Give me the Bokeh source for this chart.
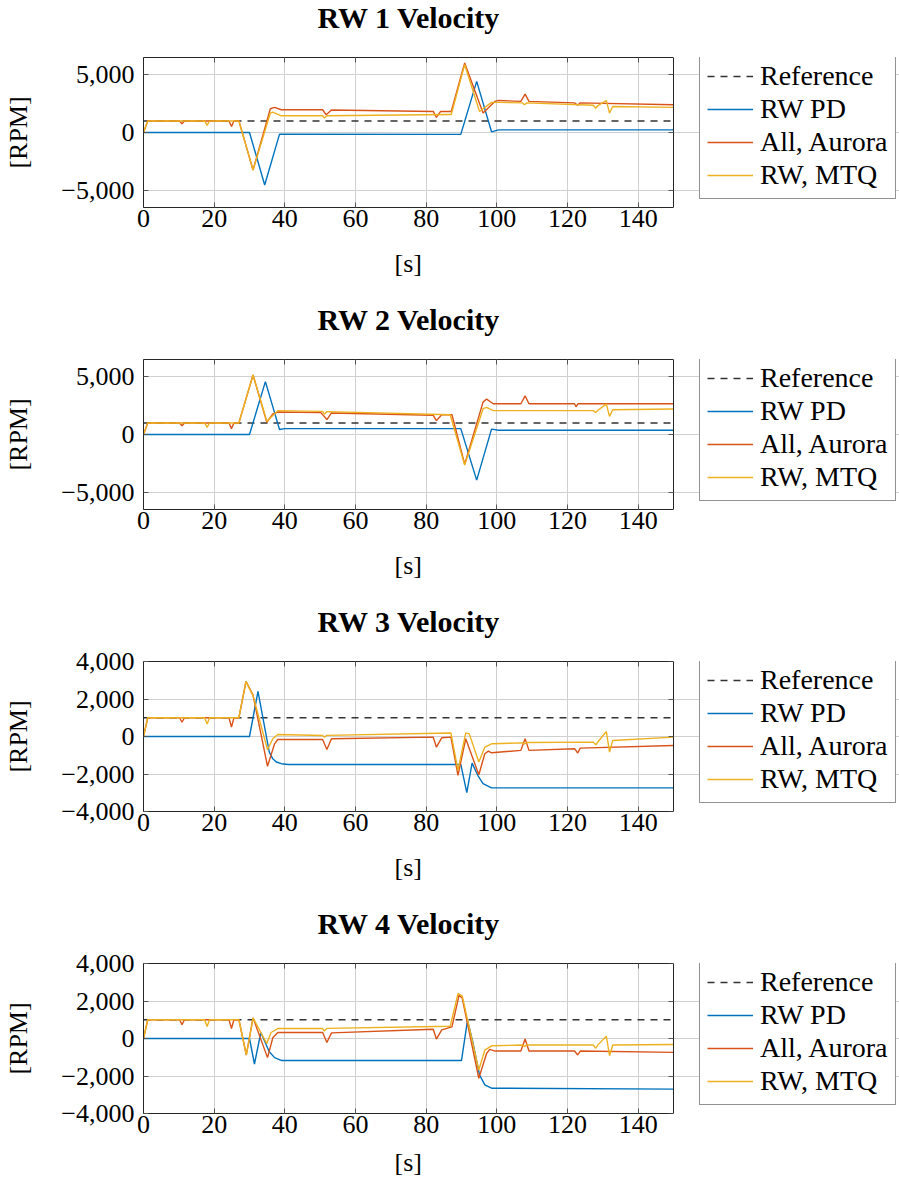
from bokeh.plotting import figure
from bokeh.layouts import column
from bokeh.models import (Legend, LegendItem, LinearAxis, Range1d, FixedTicker,
                          CustomJSTickFormatter, CustomLabelingPolicy, Title)
from bokeh.embed import file_html
from bokeh.resources import INLINE

# ---------------- data ----------------
titles = ["RW 1 Velocity", "RW 2 Velocity", "RW 3 Velocity", "RW 4 Velocity"]
series_names = ["Reference", "RW PD", "All, Aurora", "RW, MTQ"]
x_label = "[s]"
y_label = "[RPM]"
x_ticks = [0, 20, 40, 60, 80, 100, 120, 140]
x_lim = (0, 150)
y_ticks_12 = [-5000, 0, 5000]
y_ticks_34 = [-4000, -2000, 0, 2000, 4000]

ref_t = [0, 150]
ref_y = [1000, 1000]

# RW 1
blue1_t = [0, 30.0, 34.3, 38.5, 89.8, 94.3, 98.5, 100.5, 150]
blue1_y = [0, 0, -4540, -145, -160, 4420, 60, 230, 230]
red1_t = [0, 1.2, 10.2, 10.9, 11.6, 24.2, 24.9, 25.6, 27.0, 31.0, 35.9, 37.1, 39.0, 50.7, 51.7,
          53.2, 82.0, 82.9, 84.1, 87.1, 90.9, 96.1, 99.5, 100.5, 106.8, 108.0, 109.1, 122.0,
          122.9, 123.6, 150]
red1_y = [0, 1000, 1000, 750, 1000, 1000, 520, 1000, 1000, -3240, 2050, 2170, 1965, 1965, 1530,
          1940, 1820, 1300, 1820, 1820, 6010, 1680, 2690, 2770, 2690, 3320, 2690, 2560,
          2350, 2560, 2400]
yel1_t = [0, 1.2, 17.3, 18.0, 18.7, 27.0, 31.0, 35.9, 36.6, 39.0, 50.7, 51.2, 51.9, 86.8, 87.1,
          90.9, 95.1, 98.5, 100.5, 107.3, 107.8, 108.5, 127.3, 128.0, 128.6, 131.0, 131.9,
          132.8, 150]
yel1_y = [0, 1000, 1000, 620, 1000, 1000, -3240, 1680, 1760, 1445, 1445, 1250, 1445, 1560, 1560,
          5870, 1820, 2600, 2600, 2560, 2400, 2560, 2350, 2100, 2330, 2750, 1680, 2250, 2170]

# RW 2
blue2_t = [0, 30.0, 34.5, 38.5, 40.0, 89.8, 94.3, 98.5, 100.5, 150]
blue2_y = [0, 0, 4570, 430, 510, 510, -3940, 460, 370, 370]
red2_t = [0, 1.2, 10.2, 10.9, 11.6, 24.2, 24.9, 25.6, 27.0, 31.0, 34.9, 36.6, 38.0, 50.2, 51.9,
          53.2, 82.0, 82.9, 84.4, 87.3, 90.9, 96.1, 97.1, 99.0, 106.8, 108.0, 109.1, 122.0,
          122.4, 123.0, 150]
red2_y = [0, 1000, 1000, 750, 1000, 1000, 510, 1000, 1000, 5140, 1060, 1770, 1940, 1890, 1290,
          1860, 1660, 1200, 1710, 1710, -2570, 2800, 3060, 2660, 2660, 3340, 2660, 2660,
          2400, 2660, 2660]
yel2_t = [0, 1.2, 17.3, 18.0, 18.7, 27.0, 31.0, 34.9, 38.0, 50.7, 51.2, 51.9, 86.8, 90.9, 96.1,
          97.1, 99.0, 127.3, 128.0, 128.6, 131.0, 131.9, 132.8, 150]
yel2_y = [0, 1000, 1000, 620, 1000, 1000, 5140, 1140, 2060, 2000, 1750, 1980, 1710, -2630, 2230,
          2340, 2060, 2060, 1900, 2100, 2630, 1570, 2140, 2200]

# RW 3
blue3_t = [0, 30.0, 32.4, 35.6, 36.6, 37.6, 39.0, 41.0, 89.8, 91.5, 93.0, 94.6, 96.1, 98.5, 150]
blue3_y = [0, 0, 2410, -830, -1190, -1360, -1450, -1490, -1490, -2990, -1420, -2070, -2510,
           -2740, -2740]
red3_t = [0, 1.2, 10.2, 10.9, 11.6, 24.2, 24.9, 25.6, 27.0, 29.0, 31.0, 35.1, 37.1, 38.0, 50.7,
          51.9, 53.2, 82.0, 82.9, 84.4, 87.0, 89.0, 91.2, 94.9, 96.6, 97.6, 98.5, 106.8, 108.0,
          109.1, 122.0, 122.9, 123.6, 150]
red3_y = [0, 1000, 1000, 760, 1000, 1000, 500, 1000, 1000, 2940, 2210, -1590, -390, -160, -160,
          -690, -120, -35, -570, -70, -35, -2070, -120, -2040, -920, -780, -870, -740, -120,
          -740, -650, -880, -620, -480]
yel3_t = [0, 1.2, 17.3, 18.0, 18.7, 27.0, 29.0, 31.0, 35.1, 36.6, 38.0, 50.7, 51.2, 51.9, 87.0,
          89.0, 91.2, 92.2, 94.9, 96.6, 98.5, 107.3, 107.8, 108.5, 127.3, 128.0, 128.6, 131.0,
          131.9, 132.8, 150]
yel3_y = [0, 1000, 1000, 670, 1000, 1000, 2940, 2180, -710, -120, 110, 50, -40, 60, 190, -1800,
          190, 140, -1360, -570, -390, -340, -400, -320, -300, -440, -290, 265, -830, -210, -35]

# RW 4
blue4_t = [0, 30.0, 31.4, 33.2, 35.6, 37.1, 39.0, 90.0, 91.7, 93.2, 95.1, 96.6, 98.5, 150]
blue4_y = [0, 0, -1360, 320, -710, -1020, -1170, -1170, 970, -180, -1940, -2470, -2650, -2700]
red4_t = [0, 1.2, 10.2, 10.9, 11.6, 24.2, 24.9, 25.6, 27.0, 29.1, 31.0, 35.1, 36.6, 38.0, 50.7,
          51.9, 53.2, 82.0, 82.9, 84.4, 87.3, 89.3, 90.2, 94.9, 97.1, 98.0, 99.5, 106.8, 108.0,
          109.1, 122.0, 122.9, 123.6, 150]
red4_y = [0, 1000, 1000, 740, 1000, 1000, 530, 1000, 1000, -880, 1100, -1020, 40, 320, 320,
          -210, 300, 490, -30, 460, 620, 2300, 2160, -2120, -800, -580, -670, -670, -30, -670,
          -670, -880, -670, -740]
yel4_t = [0, 1.2, 17.3, 18.0, 18.7, 27.0, 29.1, 31.0, 34.9, 36.1, 38.0, 50.7, 51.2, 51.9, 86.8,
          89.0, 90.2, 94.9, 96.6, 98.5, 107.3, 107.8, 108.5, 127.3, 128.0, 128.6, 131.0, 131.9,
          132.8, 150]
yel4_y = [0, 1000, 1000, 640, 1000, 1000, -880, 1100, -270, 320, 530, 530, 400, 540, 650, 2390,
          2270, -1680, -620, -390, -350, -420, -340, -350, -520, -340, 120, -920, -350, -320]

panels = [
    (titles[0], (-6480, 6480), y_ticks_12, blue1_t, blue1_y, red1_t, red1_y, yel1_t, yel1_y),
    (titles[1], (-6480, 6480), y_ticks_12, blue2_t, blue2_y, red2_t, red2_y, yel2_t, yel2_y),
    (titles[2], (-4000, 4000), y_ticks_34, blue3_t, blue3_y, red3_t, red3_y, yel3_t, yel3_y),
    (titles[3], (-4000, 4000), y_ticks_34, blue4_t, blue4_y, red4_t, red4_y, yel4_t, yel4_y),
]

# ---------------- style / layout ----------------
FONT = "Liberation Serif"
FS = "26px"
C_REF = "#333333"
C_BLUE = "#0072BD"
C_RED = "#D95319"
C_YEL = "#EDB120"
FRAME = "#262626"
GRID = "#d0d0d0"
TICKC = "#555555"
LW = 1.4

W = 899
LEFT = 143          # frame left in px
AX_W = 530          # width of the axes box (0..150) in px
FRAME_W = W - LEFT  # plotting frame extends under the legend
x_end = x_lim[1] * FRAME_W / AX_W
TITLE_OFFSET = 174  # centres the bold title over the axes box
XLABEL_OFFSET = 251 # centres "[s]" under the axes box

fmt = CustomJSTickFormatter(code="""
const a = Math.abs(tick).toLocaleString('en-US');
return tick < 0 ? '\u2212' + a : a;
""")
no_labels = CustomLabelingPolicy(code="return new indices.constructor(indices.size, 0);")

figs = []
for i, (title, yr, yt, bt, by, rt, ry, ytt, yy) in enumerate(panels):
    last = (i == 3)
    h = 282 if last else 302
    bb = 75 if last else 95
    p = figure(width=W, height=h, x_range=Range1d(x_lim[0], x_end), y_range=Range1d(*yr),
               output_backend="svg", toolbar_location=None,
               min_border_left=LEFT, min_border_right=0, min_border_top=56,
               min_border_bottom=bb)
    p.title = Title(text=title, align="left", offset=TITLE_OFFSET, text_font=FONT,
                    text_font_size="30px", text_font_style="bold", text_color="black",
                    standoff=0, vertical_align="top")
    p.outline_line_color = None

    p.xaxis.ticker = FixedTicker(ticks=x_ticks)
    p.yaxis.ticker = FixedTicker(ticks=yt)
    p.yaxis.formatter = fmt
    for ax in (p.xaxis, p.yaxis):
        ax.axis_line_color = FRAME
        ax.axis_line_width = 1
        ax.major_tick_in = 5
        ax.major_tick_out = 0
        ax.major_tick_line_color = TICKC
        ax.minor_tick_line_color = None
        ax.major_label_text_font = FONT
        ax.major_label_text_font_size = FS
        ax.major_label_text_color = "black"
        ax.axis_label_text_font = FONT
        ax.axis_label_text_font_size = FS
        ax.axis_label_text_font_style = "normal"
        ax.axis_label_text_color = "black"
    p.xaxis.bounds = x_lim
    p.yaxis.axis_label = y_label
    p.xaxis.major_label_standoff = 2
    p.yaxis.major_label_standoff = 9
    p.yaxis.axis_label_standoff = 25

    # x-axis label centred under the 0..150 box
    p.add_layout(Title(text=x_label, align="left", offset=XLABEL_OFFSET, text_font=FONT,
                       text_font_size=FS, text_font_style="normal", text_color="black",
                       standoff=20 if last else 34), "below")

    # top edge with mirrored ticks (no labels); its standoff lifts the title
    top = LinearAxis(ticker=FixedTicker(ticks=x_ticks), bounds=x_lim,
                     axis_line_color=FRAME, axis_line_width=1,
                     major_tick_in=5, major_tick_out=0, major_tick_line_color=TICKC,
                     minor_tick_line_color=None, major_label_policy=no_labels,
                     major_label_standoff=11)
    # right edge of the axes box at x = 150
    right = LinearAxis(ticker=FixedTicker(ticks=yt), fixed_location=x_lim[1],
                       axis_line_color=FRAME, axis_line_width=1,
                       major_tick_in=5, major_tick_out=0, major_tick_line_color=TICKC,
                       minor_tick_line_color=None, major_label_policy=no_labels,
                       major_label_standoff=0)
    p.add_layout(top, "above")
    p.add_layout(right, "right")

    p.xgrid.ticker = FixedTicker(ticks=x_ticks)
    p.ygrid.ticker = FixedTicker(ticks=yt)
    p.ygrid.bounds = x_lim
    p.grid.grid_line_color = GRID
    p.grid.grid_line_width = 1

    r0 = p.line(ref_t, ref_y, line_color=C_REF, line_dash="7 6", line_width=LW)
    r1 = p.line(bt, by, line_color=C_BLUE, line_width=LW)
    r2 = p.line(rt, ry, line_color=C_RED, line_width=LW)
    r3 = p.line(ytt, yy, line_color=C_YEL, line_width=LW)

    leg = Legend(items=[LegendItem(label=series_names[0], renderers=[r0]),
                        LegendItem(label=series_names[1], renderers=[r1]),
                        LegendItem(label=series_names[2], renderers=[r2]),
                        LegendItem(label=series_names[3], renderers=[r3])],
                 location=(556, 8), padding=7, spacing=1, margin=0,
                 glyph_width=46, glyph_height=20, label_standoff=7, label_height=20,
                 label_text_font=FONT, label_text_font_size="28px",
                 label_text_color="black", border_line_color=FRAME,
                 border_line_width=1, background_fill_alpha=1)
    p.add_layout(leg, "center")
    figs.append(p)

lay = column(*figs, spacing=0)
with open("out.html", "w", encoding="utf-8") as f:
    f.write(file_html(lay, INLINE))
